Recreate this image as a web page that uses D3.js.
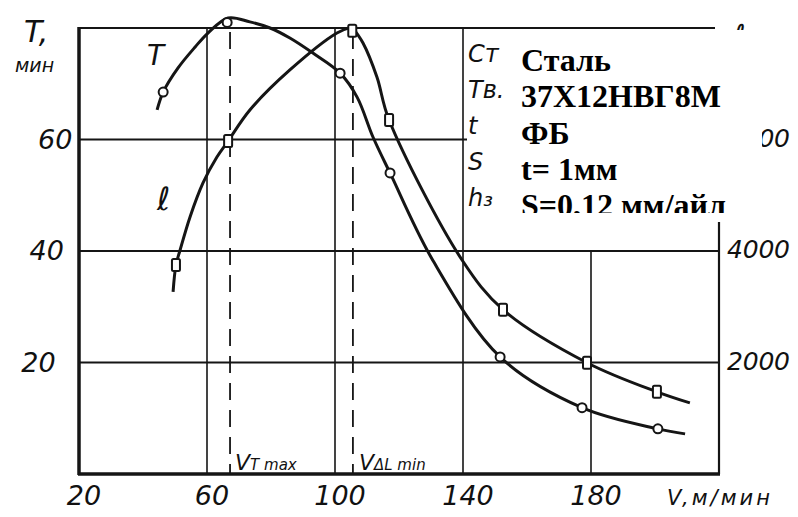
<!DOCTYPE html>
<html>
<head>
<meta charset="utf-8">
<script src="https://d3js.org/d3.v7.min.js"></script>
<style>
  body { margin: 0; background: #fff; }
  .hand { font-family: "DejaVu Sans", sans-serif; font-style: italic; fill: #111; }
  .typed { font-family: "Liberation Serif", "Times New Roman", serif; font-weight: bold; fill: #000; }
</style>
</head>
<body>
<svg id="chart" width="798" height="517"></svg>
<script>
// ticks
var vTicks = [20, 60, 100, 140, 180];
var tTicks = [20, 40, 60];
var lTicks = [2000, 4000, 6000];

// T (min) curve trace and measured points, V in m/min
var tTrace = [[44.4, 65.3], [46.3, 68.5], [50.9, 72.8], [56.3, 76.6], [60.3, 79.1], [66.6, 81.8], [73.4, 81.1],
              [79.7, 80.0], [85.9, 78.2], [93.1, 75.5], [101.6, 71.9], [106.9, 67.6], [111.9, 60.4], [117.2, 54.0],
              [130.6, 38.3], [151.6, 21.0], [177.2, 11.9], [200.9, 8.1], [209.4, 7.2]];
var tMarks = [[46.3, 68.5], [66.3, 81.0], [101.6, 71.9], [117.2, 54.0], [151.6, 21.0], [177.2, 11.9], [200.9, 8.1]];

// l curve: rising branch and falling branch (sharp peak)
var lRise = [[49.4, 3265], [50.3, 3749], [51.6, 4018], [54.7, 4610], [58.75, 5220], [63.1, 5686], [66.6, 5973],
             [73.4, 6529], [85.9, 7247], [100.6, 7910], [105.3, 8020]];
var lFall = [[105.3, 8020], [108.75, 7731], [113.1, 7121], [116.9, 6350], [139.7, 3839], [152.5, 2948],
             [178.75, 1996], [200.6, 1474], [210.9, 1276]];
var lMarks = [[50.3, 3749], [66.6, 5973], [105.4, 7950], [116.9, 6350], [152.5, 2948], [178.75, 1996], [200.6, 1474]];

// characteristic speeds
var vTmax = 67.2;
var vLmin = 105.6;

var legendKeys = ["Ст", "Тв.", "t", "S", "h₃"];
var legendText = ["Сталь", "37Х12НВГ8М", "ФБ", "t= 1мм", "S=0,12 мм/айл"];

var svg = d3.select("#chart");
var x = d3.scaleLinear().domain([20, 220]).range([79, 719]);
var yT = d3.scaleLinear().domain([0, 80]).range([474, 28]);
var yL = d3.scaleLinear().domain([0, 8000]).range([474, 28]);
var ink = "#151515";

// grid
svg.selectAll(".hgrid").data(tTicks).enter().append("line")
    .attr("x1", x(20)).attr("x2", x(220))
    .attr("y1", d => yT(d)).attr("y2", d => yT(d))
    .attr("stroke", ink).attr("stroke-width", 1.8);
svg.selectAll(".vgrid").data(vTicks.slice(1)).enter().append("line")
    .attr("x1", d => x(d)).attr("x2", d => x(d))
    .attr("y1", d => d == 180 ? yT(40) : yT(80)).attr("y2", yT(0))
    .attr("stroke", ink).attr("stroke-width", 1.6);

// dashed speed lines
svg.selectAll(".dash").data([vTmax, vLmin]).enter().append("line")
    .attr("x1", d => x(d)).attr("x2", d => x(d))
    .attr("y1", yT(80) + 4).attr("y2", yT(0))
    .attr("stroke", ink).attr("stroke-width", 1.8)
    .attr("stroke-dasharray", "17,10");

// frame
svg.append("line").attr("x1", x(20)).attr("x2", x(220) - 4).attr("y1", yT(80)).attr("y2", yT(80))
    .attr("stroke", ink).attr("stroke-width", 2.2);
svg.append("line").attr("x1", x(220)).attr("x2", x(220)).attr("y1", 222).attr("y2", yT(0))
    .attr("stroke", ink).attr("stroke-width", 2.2);
svg.append("line").attr("x1", x(20)).attr("x2", x(20)).attr("y1", yT(80) - 1).attr("y2", yT(0) + 1)
    .attr("stroke", ink).attr("stroke-width", 3.5);
svg.append("line").attr("x1", x(20) - 1).attr("x2", x(220) + 1).attr("y1", yT(0)).attr("y2", yT(0))
    .attr("stroke", ink).attr("stroke-width", 3.5);

// curves
var line = d3.line().x(d => x(d[0])).curve(d3.curveCatmullRom.alpha(0.5));
svg.append("path").datum(tTrace)
    .attr("d", line.y(d => yT(d[1])))
    .attr("fill", "none").attr("stroke", ink).attr("stroke-width", 3);
[lRise, lFall].forEach(function(seg) {
    svg.append("path").datum(seg)
        .attr("d", line.y(d => yL(d[1])))
        .attr("fill", "none").attr("stroke", ink).attr("stroke-width", 3);
});

// markers
svg.selectAll(".tm").data(tMarks).enter().append("circle")
    .attr("cx", d => x(d[0])).attr("cy", d => yT(d[1])).attr("r", 4.5)
    .attr("fill", "#fff").attr("stroke", ink).attr("stroke-width", 2);
svg.selectAll(".lm").data(lMarks).enter().append("rect")
    .attr("x", d => x(d[0]) - 4).attr("y", d => yL(d[1]) - 6)
    .attr("width", 8).attr("height", 12).attr("rx", 1.5)
    .attr("fill", "#fff").attr("stroke", ink).attr("stroke-width", 2);

// tick labels
svg.selectAll(".vt").data(vTicks).enter().append("text").attr("class", "hand")
    .attr("x", d => x(d) + 5).attr("y", 505).attr("text-anchor", "middle")
    .attr("font-size", 27).text(d => d);
svg.append("text").attr("class", "hand").attr("x", 667).attr("y", 505)
    .attr("font-size", 21).attr("textLength", 103).text("V,м/мин");
svg.selectAll(".tt").data(tTicks).enter().append("text").attr("class", "hand")
    .attr("x", d => 30 + d * 0.42).attr("y", d => yT(d) + 9).attr("text-anchor", "middle")
    .attr("font-size", 27).text(d => d);
svg.selectAll(".lt").data(lTicks).enter().append("text").attr("class", "hand")
    .attr("x", 727).attr("y", d => yL(d) + 7)
    .attr("font-size", 25).attr("textLength", 63).text(d => d);
svg.append("text").attr("class", "hand").attr("x", 24).attr("y", 42).attr("font-size", 30).text("T,");
svg.append("text").attr("class", "hand").attr("x", 15).attr("y", 72).attr("font-size", 19).text("мин");
svg.append("text").attr("class", "hand").attr("x", 733).attr("y", 46).attr("font-size", 30).text("ℓ,");

// curve names
svg.append("text").attr("class", "hand").attr("x", 147).attr("y", 65).attr("font-size", 28).text("T");
svg.append("text").attr("class", "hand").attr("x", 157).attr("y", 210).attr("font-size", 32).text("ℓ");

// speed labels
svg.append("text").attr("class", "hand").attr("x", x(vTmax) + 5).attr("y", 470).attr("font-size", 22)
    .text("V").append("tspan").attr("font-size", 15).text("T max");
svg.append("text").attr("class", "hand").attr("x", x(vLmin) + 6).attr("y", 470).attr("font-size", 22)
    .text("V").append("tspan").attr("font-size", 15).text("ΔL min");

// legend box pasted over the chart
svg.append("rect").attr("x", 467).attr("y", 30).attr("width", 295).attr("height", 192).attr("fill", "#fff");
svg.selectAll(".lk").data(legendKeys).enter().append("text").attr("class", "hand")
    .attr("x", 468).attr("y", (d, i) => 62 + i * 36).attr("font-size", 24).text(d => d);
svg.append("clipPath").attr("id", "boxclip").append("rect")
    .attr("x", 500).attr("y", 30).attr("width", 262).attr("height", 183);
svg.append("g").attr("clip-path", "url(#boxclip)")
    .selectAll("text").data(legendText).enter().append("text").attr("class", "typed")
    .attr("x", 521).attr("y", (d, i) => 71 + i * 36.3).attr("font-size", 32).text(d => d);
</script>
</body>
</html>
